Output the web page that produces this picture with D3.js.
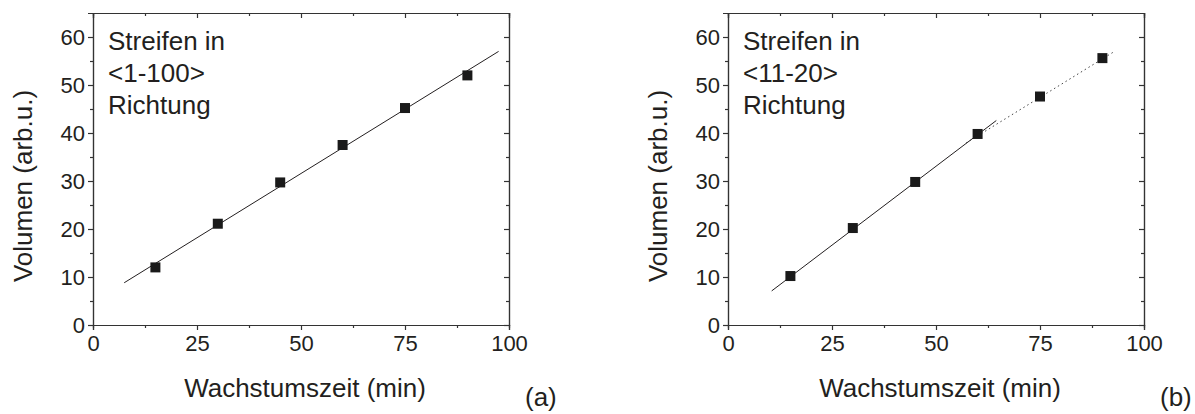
<!DOCTYPE html>
<html>
<head>
<meta charset="utf-8">
<script src="https://cdn.jsdelivr.net/npm/d3@7"></script>
<style>
  body { margin: 0; background: #fff; }
  text { font-family: 'Liberation Sans', Arial, sans-serif; fill: #231f20; }
</style>
</head>
<body>
<div id="canvas"></div>
<script>
// growth time (min)
var times = [15, 30, 45, 60, 75, 90];
// volume, stripes in <1-100> direction
var volA = [12.0, 21.1, 29.7, 37.5, 45.2, 52.0];
// volume, stripes in <11-20> direction
var volB = [10.2, 20.2, 29.8, 39.8, 47.6, 55.6];

// fit lines (endpoints)
var fitA = [[7.5, 8.8], [97.5, 57.0]];
var fitB = [[10.5, 7.1], [64.5, 42.6]];
var fitBdot = [[57.2, 37.9], [93.1, 57.1]];

var xTicks = [0, 25, 50, 75, 100];
var yTicks = [0, 10, 20, 30, 40, 50, 60];
var labelA = ['Streifen in', '<1-100>', 'Richtung'];
var labelB = ['Streifen in', '<11-20>', 'Richtung'];

(function () {
  var W = 1195, H = 414
  var svg = d3.select('#canvas').append('svg')
    .attr('width', W).attr('height', H)

  var drawPanel = function (left, vals, fits, dotted, label, tag) {
    var x = d3.scaleLinear().domain([0, 100]).range([left, left + 416])
    var y = d3.scaleLinear().domain([0, 65]).range([325, 13])
    var g = svg.append('g')
    var minorX = d3.range(0, 101, 12.5).filter(function (v) { return v % 25 !== 0 })
    var minorY = d3.range(0, 65, 5).filter(function (v) { return v % 10 !== 0 })

    // bottom + left, ticks outward
    var bx = g.append('g').attr('transform', 'translate(0,' + y(0) + ')')
      .call(d3.axisBottom(x).tickValues(xTicks).tickSize(5).tickPadding(5))
    bx.append('g').call(d3.axisBottom(x).tickValues(minorX).tickSize(3).tickFormat(''))
    var ly = g.append('g').attr('transform', 'translate(' + x(0) + ',0)')
      .call(d3.axisLeft(y).tickValues(yTicks).tickSize(5).tickPadding(3))
    ly.append('g').call(d3.axisLeft(y).tickValues(minorY).tickSize(3).tickFormat(''))
    // top + right, ticks inward
    var tx = g.append('g').attr('transform', 'translate(0,' + y(65) + ')')
      .call(d3.axisTop(x).tickValues(xTicks).tickSize(-5).tickFormat(''))
    tx.append('g').call(d3.axisTop(x).tickValues(minorX).tickSize(-3).tickFormat(''))
    var ry = g.append('g').attr('transform', 'translate(' + x(100) + ',0)')
      .call(d3.axisRight(y).tickValues(yTicks).tickSize(-5).tickFormat(''))
    ry.append('g').call(d3.axisRight(y).tickValues(minorY).tickSize(-3).tickFormat(''))

    g.selectAll('.domain, .tick line').attr('stroke', '#333').attr('stroke-width', 1.2)
    g.selectAll('.tick text').attr('font-size', '22px')
      .attr('font-family', "'Liberation Sans', Arial, sans-serif").attr('fill', '#231f20')

    var line = d3.line().x(function (d) { return x(d[0]) }).y(function (d) { return y(d[1]) })
    fits.forEach(function (f) {
      g.append('path').attr('d', line(f)).attr('fill', 'none')
        .attr('stroke', '#231f20').attr('stroke-width', 1)
    })
    if (dotted) {
      g.append('path').attr('d', line(dotted)).attr('fill', 'none')
        .attr('stroke', '#444').attr('stroke-width', 1).attr('stroke-dasharray', '1.5,3')
    }

    g.selectAll('rect.pt').data(times).enter().append('rect')
      .attr('class', 'pt')
      .attr('x', function (d) { return x(d) - 5 })
      .attr('y', function (d, i) { return y(vals[i]) - 5 })
      .attr('width', 10).attr('height', 10)
      .attr('fill', '#1a1a1a')

    g.selectAll('text.lab').data(label).enter().append('text')
      .attr('class', 'lab')
      .attr('x', x(0) + 15)
      .attr('y', function (d, i) { return 50 + i * 32 })
      .attr('font-size', '26px')
      .text(function (d) { return d })

    g.append('text').attr('x', (x(0) + x(100)) / 2 + 4).attr('y', 397)
      .attr('text-anchor', 'middle').attr('font-size', '26px')
      .text('Wachstumszeit (min)')
    g.append('text')
      .attr('transform', 'translate(' + (x(0) - 61) + ',186) rotate(-90)')
      .attr('text-anchor', 'middle').attr('font-size', '26px')
      .text('Volumen (arb.u.)')
    g.append('text').attr('x', x(100) + 16).attr('y', 406)
      .attr('font-size', '26px').text(tag)
  }

  drawPanel(93, volA, [fitA], null, labelA, '(a)')
  drawPanel(728, volB, [fitB], fitBdot, labelB, '(b)')
})()
</script>
</body>
</html>
